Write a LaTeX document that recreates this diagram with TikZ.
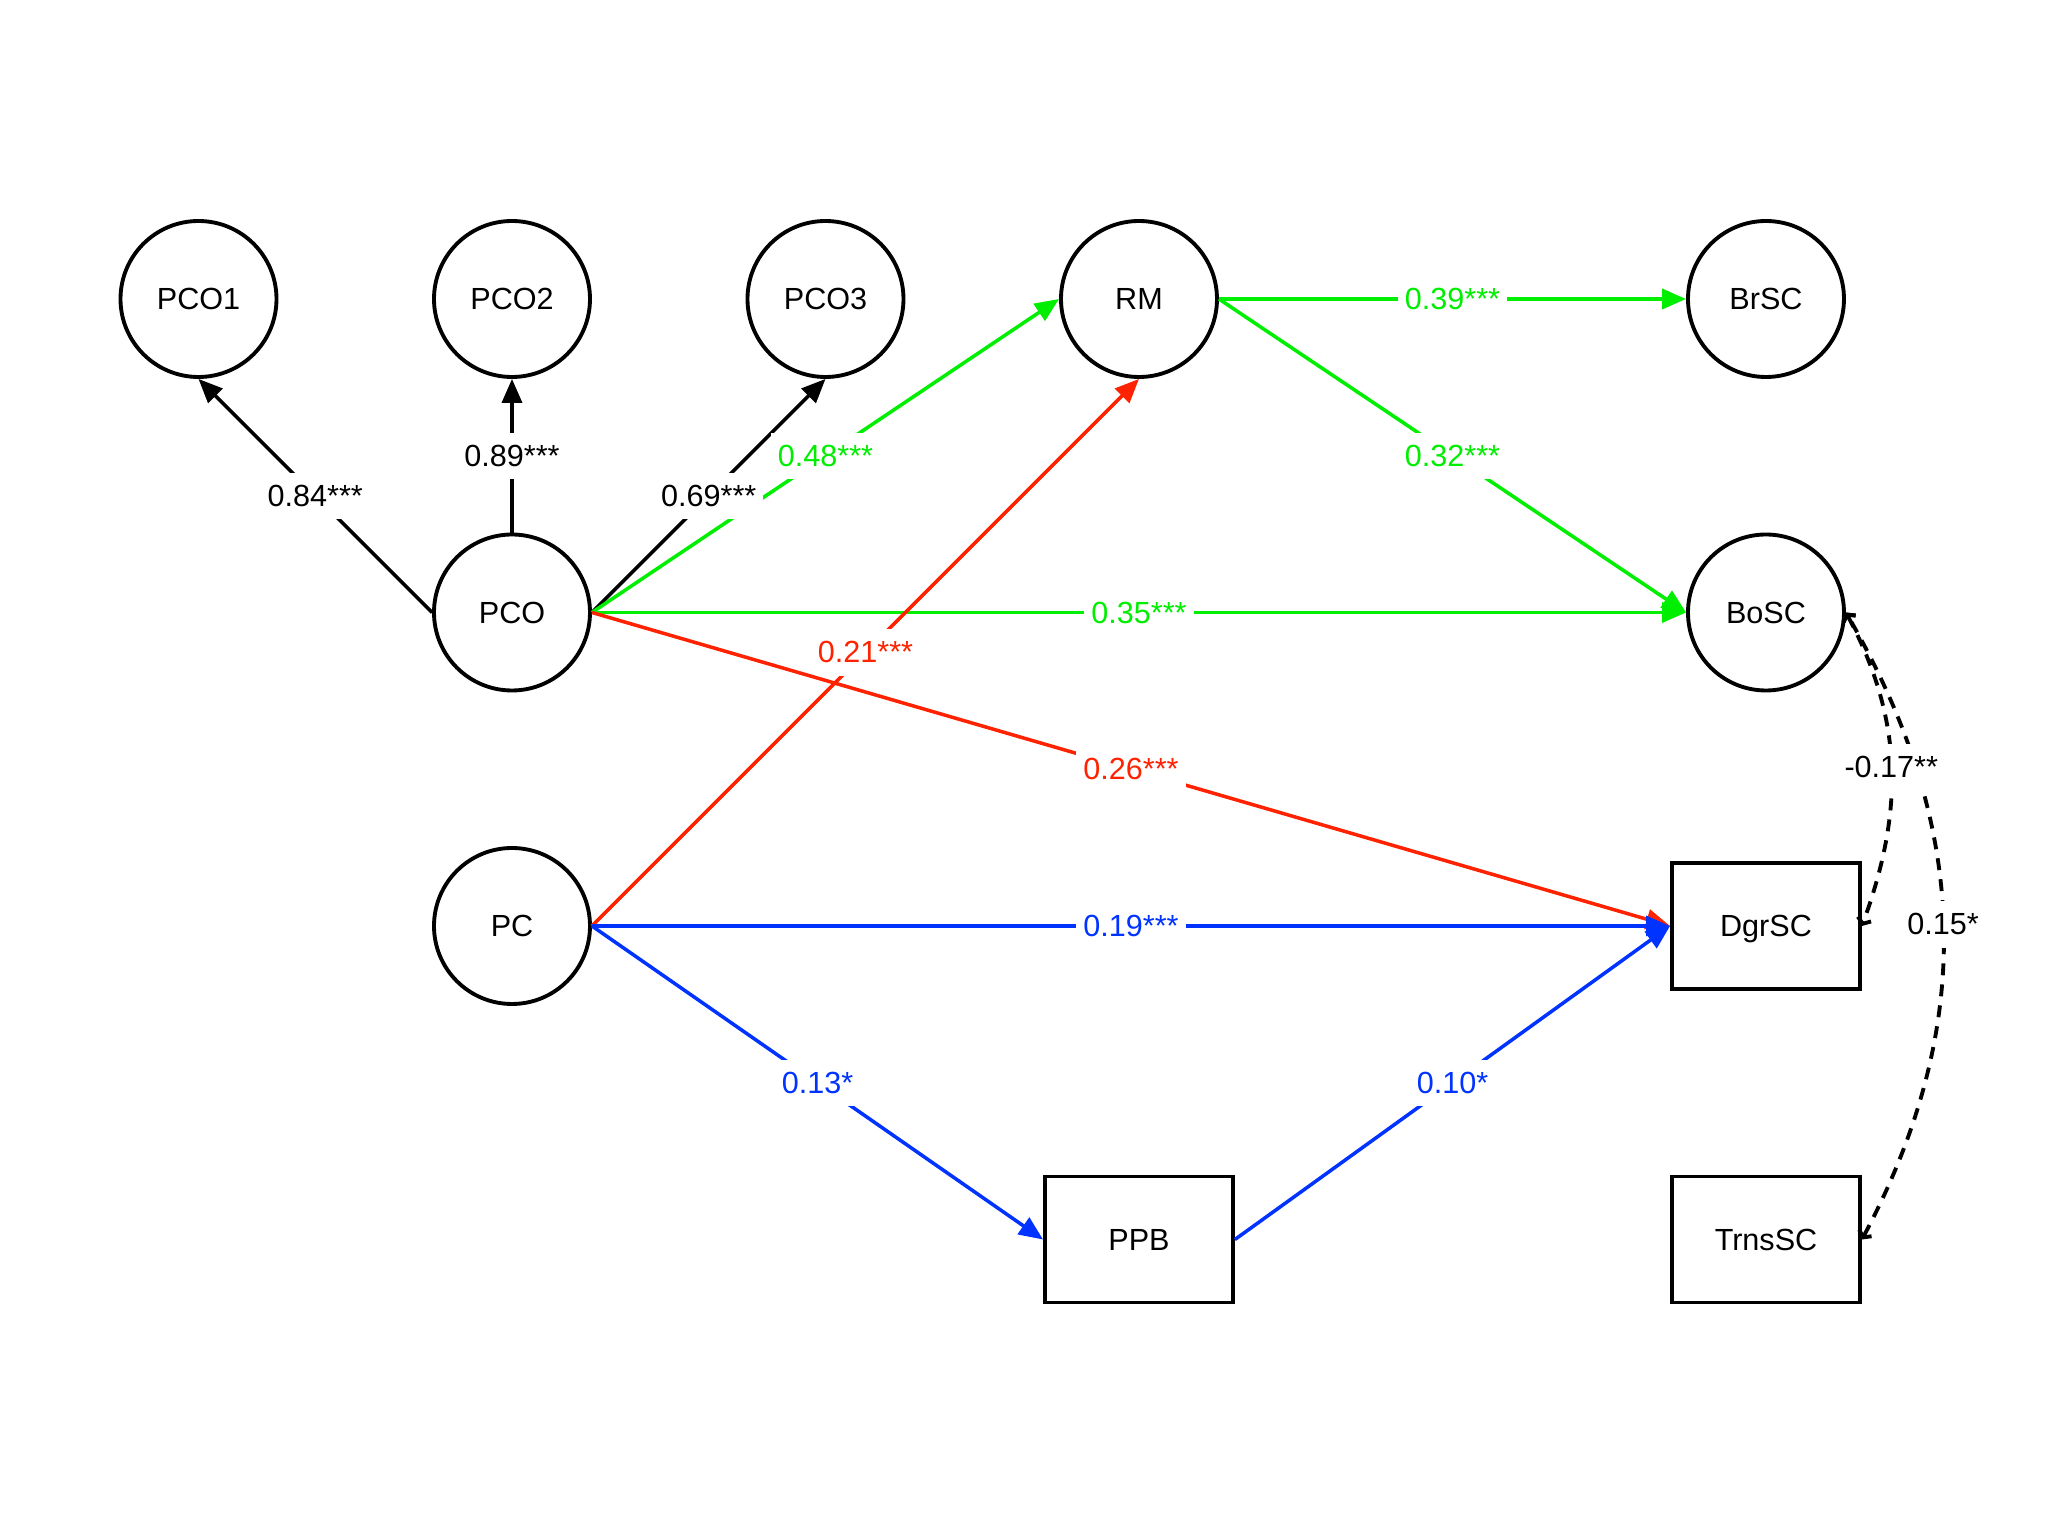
\documentclass[tikz,border=0pt]{standalone}
\usepackage{fontspec}
\setmainfont{Liberation Sans}
\usetikzlibrary{arrows.meta}

\definecolor{semgreen}{RGB}{0,238,0}
\definecolor{semred}{RGB}{255,34,0}
\definecolor{semblue}{RGB}{0,51,255}

\begin{document}
\begin{tikzpicture}[x=3.135cm, y=-3.135cm, >={Triangle[length=2.4mm,width=2mm]},
  every node/.style={font=\fontsize{8.7}{10}\selectfont},
  lat/.style={draw, circle, line width=1.1pt, minimum size=1.56cm, inner sep=0pt, text depth=0pt},
  obs/.style={draw, rectangle, line width=1.1pt, minimum width=1.88cm, minimum height=1.26cm, text depth=0pt},
  lnk/.style={->, line width=1pt},
  lbl/.style={fill=white, inner xsep=2pt, inner ysep=3.5pt, midway},
  cov/.style={{Straight Barb[length=0.5mm,width=1.4mm]}-{Straight Barb[length=0.5mm,width=1.4mm]},
    line width=1.1pt, dash pattern=on 3.4pt off 2.6pt}]
  \useasboundingbox (-1.985cm,2.99cm) rectangle (18.495cm,-12.37cm);
  \node[lat] (PCO1) at (0,0) {PCO1};
  \node[lat] (PCO2) at (1,0) {PCO2};
  \node[lat] (PCO3) at (2,0) {PCO3};
  \node[lat] (RM)   at (3,0) {RM};
  \node[lat] (BrSC) at (5,0) {BrSC};
  \node[lat] (PCO)  at (1,1) {PCO};
  \node[lat] (BoSC) at (5,1) {BoSC};
  \node[lat] (PC)   at (1,2) {PC};
  \node[obs] (DgrSC)  at (5,2) {DgrSC};
  \node[obs] (PPB)    at (3,3) {PPB};
  \node[obs] (TrnsSC) at (5,3) {TrnsSC};

  \draw[lnk] (PCO.west) -- node[lbl]{0.84***} (PCO1.south);
  \draw[lnk] (PCO.north) -- node[lbl]{0.89***} (PCO2.south);
  \draw[lnk] (PCO.east) -- (PCO3.south);
  \begin{scope}[semgreen]
  \draw[lnk] (PCO.east) -- node[lbl]{0.48***} (RM.west);
  \draw[lnk] (PCO.east) -- node[lbl]{0.35***} (BoSC.west);
  \draw[lnk] (RM.east) -- node[lbl]{0.39***} (BrSC.west);
  \draw[lnk] (RM.east) -- node[lbl]{0.32***} (BoSC.west);
  \end{scope}
  \path (PCO.east) -- node[lbl]{0.69***} (PCO3.south);
  \begin{scope}[semred]
  \draw[lnk] (PC.east) -- node[lbl]{0.21***} (RM.south);
  \draw[lnk] (PCO.east) -- node[lbl]{0.26***} (DgrSC.west);
  \end{scope}
  \begin{scope}[semblue]
  \draw[lnk] (PC.east) -- node[lbl]{0.19***} (DgrSC.west);
  \draw[lnk] (PC.east) -- node[lbl]{0.13*} (PPB.west);
  \draw[lnk] (PPB.east) -- node[lbl]{0.10*} (DgrSC.west);
  \end{scope}

  \draw[cov] (TrnsSC.east) to[out=62,in=-60] node[lbl]{0.15*} (BoSC.east);
  \draw[cov] (BoSC.east) to[out=-62,in=70] node[lbl]{-0.17**} (DgrSC.east);
\end{tikzpicture}
\end{document}
